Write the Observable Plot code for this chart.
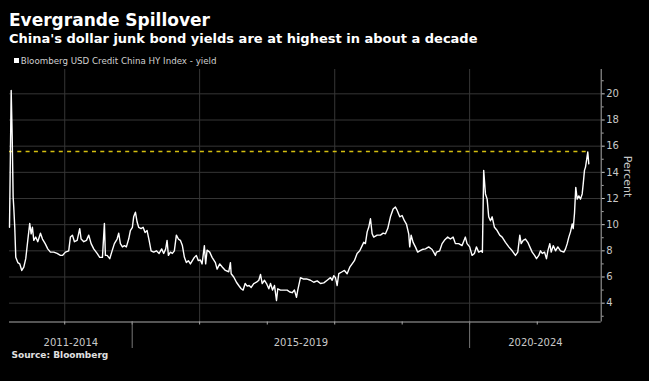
<!DOCTYPE html>
<html><head><meta charset="utf-8">
<script src="https://cdn.jsdelivr.net/npm/d3@7"></script>
<script src="https://cdn.jsdelivr.net/npm/@observablehq/plot@0.6"></script>
<style>
html,body{margin:0;padding:0;background:#000;}
#wrap{position:relative;width:649px;height:381px;overflow:hidden;background:#000;font-family:"DejaVu Sans",sans-serif;}
.t{position:absolute;white-space:nowrap;line-height:1;}
#title{left:9px;top:12.3px;font-size:17px;font-weight:bold;color:#fff;}
#subtitle{left:9px;top:32.3px;font-size:13px;font-weight:bold;color:#fff;}
#legend{left:20.7px;top:56.6px;font-size:8.7px;color:#d0d0d0;}
#swatch{position:absolute;left:14px;top:58.3px;width:5px;height:5px;background:#fff;}
#source{left:11.5px;top:350.7px;font-size:9px;font-weight:bold;color:#e0e0e0;}
#chart{position:absolute;left:0;top:66px;}
#chart svg{display:block;}
</style>
</head><body>
<div id="wrap">
  <div class="t" id="title">Evergrande Spillover</div>
  <div class="t" id="subtitle">China's dollar junk bond yields are at highest in about a decade</div>
  <div id="swatch"></div>
  <div class="t" id="legend">Bloomberg USD Credit China HY Index - yield</div>
  <div id="chart"></div>
  <div class="t" id="source">Source: Bloomberg</div>
</div>
<script>
// Dates as decimal years, yields in percent
const dates = [
2013.181,2013.206,2013.221,2013.235,2013.244,2013.259,2013.274,2013.304,2013.333,2013.363,
2013.393,2013.422,2013.452,2013.481,2013.502,2013.521,2013.541,2013.570,2013.600,2013.640,
2013.670,2013.710,2013.748,2013.788,2013.837,2013.887,2013.936,2013.966,2014.010,2014.059,
2014.084,2014.114,2014.144,2014.184,2014.222,2014.243,2014.282,2014.322,2014.356,2014.391,
2014.430,2014.480,2014.519,2014.559,2014.588,2014.603,2014.628,2014.667,2014.702,2014.736,
2014.776,2014.800,2014.825,2014.855,2014.885,2014.914,2014.948,2014.973,2015.003,2015.022,
2015.048,2015.073,2015.096,2015.132,2015.162,2015.191,2015.221,2015.251,2015.280,2015.319,
2015.359,2015.399,2015.437,2015.467,2015.497,2015.517,2015.537,2015.566,2015.596,2015.625,
2015.655,2015.685,2015.714,2015.744,2015.774,2015.803,2015.833,2015.863,2015.892,2015.922,
2015.951,2015.981,2016.011,2016.036,2016.070,2016.089,2016.110,2016.149,2016.184,2016.233,
2016.258,2016.297,2016.337,2016.381,2016.430,2016.455,2016.466,2016.504,2016.544,2016.578,
2016.614,2016.643,2016.673,2016.703,2016.732,2016.762,2016.800,2016.840,2016.875,2016.900,
2016.925,2016.959,2016.989,2017.023,2017.048,2017.078,2017.107,2017.137,2017.156,2017.196,
2017.245,2017.295,2017.334,2017.369,2017.403,2017.433,2017.452,2017.473,2017.492,2017.532,
2017.581,2017.641,2017.689,2017.740,2017.789,2017.838,2017.888,2017.937,2017.962,2017.986,
2018.011,2018.036,2018.060,2018.110,2018.144,2018.184,2018.223,2018.258,2018.292,2018.332,
2018.371,2018.407,2018.430,2018.455,2018.481,2018.504,2018.530,2018.555,2018.578,2018.629,
2018.678,2018.718,2018.752,2018.786,2018.826,2018.866,2018.900,2018.925,2018.964,2018.999,
2019.033,2019.063,2019.097,2019.112,2019.133,2019.162,2019.196,2019.230,2019.260,2019.296,
2019.345,2019.393,2019.444,2019.493,2019.508,2019.556,2019.592,2019.626,2019.675,2019.715,
2019.755,2019.789,2019.838,2019.888,2019.937,2019.962,2020.001,2020.036,2020.071,2020.100,
2020.134,2020.170,2020.189,2020.208,2020.234,2020.259,2020.282,2020.308,2020.333,2020.367,
2020.407,2020.445,2020.481,2020.530,2020.579,2020.629,2020.678,2020.712,2020.742,2020.762,
2020.792,2020.826,2020.860,2020.890,2020.925,2020.960,2020.989,2021.023,2021.048,2021.074,
2021.108,2021.137,2021.157,2021.186,2021.207,2021.237,2021.271,2021.305,2021.345,2021.394,
2021.419,2021.444,2021.468,2021.493,2021.518,2021.533,2021.552,2021.571,2021.592,2021.616,
2021.641,2021.666,2021.681,2021.700,2021.715,2021.730,2021.749,2021.764
];
const yields = [
9.8,20.25,16.7,12.1,11.35,9.8,7.5,7.1,7.0,6.5,
6.75,7.4,8.8,10.1,9.3,9.8,8.8,9.05,8.7,9.35,
8.9,8.55,8.15,7.9,7.9,7.8,7.65,7.65,7.9,8.0,
9.05,9.2,8.7,8.8,9.7,8.9,8.7,8.8,9.2,8.55,
8.15,7.8,7.5,7.5,10.1,7.65,7.65,7.4,8.0,8.55,
8.9,9.35,8.55,8.3,8.4,8.3,8.9,9.55,9.8,10.6,
10.95,10.2,9.8,9.7,9.8,9.4,9.55,8.8,8.0,7.9,
8.0,7.8,8.15,7.8,8.15,8.8,7.65,7.9,7.8,8.0,
9.2,8.9,8.8,8.4,7.5,7.1,7.25,7.0,7.25,7.5,
7.65,7.25,7.3,7.0,8.4,7.0,8.05,7.9,7.5,7.1,
6.6,7.0,6.75,6.5,6.4,7.1,6.25,6.0,5.6,5.35,
5.1,5.0,5.5,5.3,5.35,5.2,5.5,5.6,5.75,6.2,
5.5,5.75,5.5,5.1,5.5,5.0,5.35,4.2,5.1,5.0,
5.0,5.0,4.85,4.8,5.0,4.45,5.0,5.5,5.95,5.85,
5.85,5.75,5.6,5.7,5.5,5.55,5.75,5.95,5.75,6.1,
5.95,5.35,6.25,6.4,6.5,6.25,6.75,7.0,7.25,7.8,
8.0,8.4,8.65,8.55,9.45,9.8,10.45,9.3,9.05,9.2,
9.2,9.35,9.3,9.7,10.6,11.2,11.35,11.1,10.6,10.7,
10.3,10.05,9.3,8.3,9.2,8.65,8.3,7.9,8.0,8.1,
8.15,8.3,8.1,7.65,7.9,8.0,8.55,8.8,9.05,8.9,
9.05,8.55,8.55,8.4,9.05,8.55,8.3,7.65,7.8,8.3,
7.9,8.0,7.9,14.15,12.35,11.95,10.6,10.3,10.6,9.8,
9.55,9.2,9.05,8.65,8.3,8.0,7.65,7.9,9.2,8.55,
8.8,8.9,8.65,8.3,7.9,7.65,7.4,7.65,8.0,7.8,
7.9,7.4,8.0,8.55,7.9,8.4,8.0,8.3,8.0,7.9,
8.15,8.55,9.05,9.45,10.05,9.7,10.85,12.85,11.95,12.2,
11.95,12.35,13.1,14.15,14.4,14.9,15.55,14.65
];
const highLevel = 15.6;                    // dashed reference level
const yTicks = [4, 6, 8, 10, 12, 14, 16, 18, 20];
const yMinorTicks = [3, 5, 7, 9, 11, 13, 15, 17, 19, 21];
const yearTicks = [2014, 2015, 2016, 2017, 2018, 2019, 2020, 2021];
const gridYears = [2014, 2016, 2018, 2020];
const groupLabels = ["2011-2014", "2015-2019", "2020-2024"];
const groupBreaks = [2015, 2020];
const xDomain = [2013.181, 2021.948];
const yDomain = [2.56, 21.86];

const toDate = t => {
  const y = Math.floor(t);
  const a = Date.UTC(y, 0, 1), b = Date.UTC(y + 1, 0, 1);
  return new Date(a + (t - y) * (b - a));
};
const data = dates.map((t, i) => ({date: toDate(t), value: yields[i]}));
const xd = xDomain.map(toDate);
const bounds = [xd[0], ...groupBreaks.map(toDate), xd[1]];
const groups = groupLabels.map((label, i) => ({label, x: new Date((+bounds[i] + +bounds[i + 1]) / 2)}));
const high = [{y: highLevel, x1: data[0].date, x2: data[data.length - 1].date}];

const chart = Plot.plot({
  width: 649, height: 282,
  marginTop: 3, marginRight: 48.3, marginBottom: 26.5, marginLeft: 9,
  style: {background: "#000", color: "#c8c8c8", fontFamily: "DejaVu Sans", fontSize: "10px", overflow: "visible"},
  x: {type: "utc", domain: xd},
  y: {domain: yDomain},
  marks: [
    Plot.gridY(yTicks, {stroke: "#363636", strokeOpacity: 1}),
    Plot.gridX(gridYears.map(toDate), {stroke: "#363636", strokeOpacity: 1}),
    Plot.ruleY(high, {y: "y", x1: "x1", x2: "x2", stroke: "#d4be10", strokeWidth: 1.5, strokeDasharray: "4,4.3"}),
    Plot.lineY(data, {x: "date", y: "value", stroke: "#fff", strokeWidth: 1.4}),
    Plot.ruleX([xd[1]], {stroke: "#aaa"}),
    Plot.ruleY([yDomain[0]], {stroke: "#aaa"}),
    Plot.axisY(yTicks, {anchor: "right", tickSize: 3, tickPadding: 2, label: null, color: "#c8c8c8", fontSize: 10}),
    Plot.axisY(yMinorTicks, {anchor: "right", tickSize: 2, tickFormat: () => "", label: null, color: "#aaa"}),
    Plot.axisX(yearTicks.map(toDate), {anchor: "bottom", tickSize: 3, tickFormat: () => "", label: null, color: "#aaa"}),
    Plot.axisX(groupBreaks.map(toDate), {anchor: "bottom", tickSize: 26.5, tickFormat: () => "", label: null, color: "#777"}),
    Plot.text(groups, {x: "x", text: "label", frameAnchor: "bottom", dy: 20.5, lineAnchor: "middle", fill: "#c8c8c8", fontSize: 10}),
    Plot.text(["Percent"], {frameAnchor: "right", dx: 26, dy: 1.5, rotate: 90, fill: "#c8c8c8", fontSize: 11})
  ]
});
document.getElementById("chart").appendChild(chart);
</script>
</body></html>
